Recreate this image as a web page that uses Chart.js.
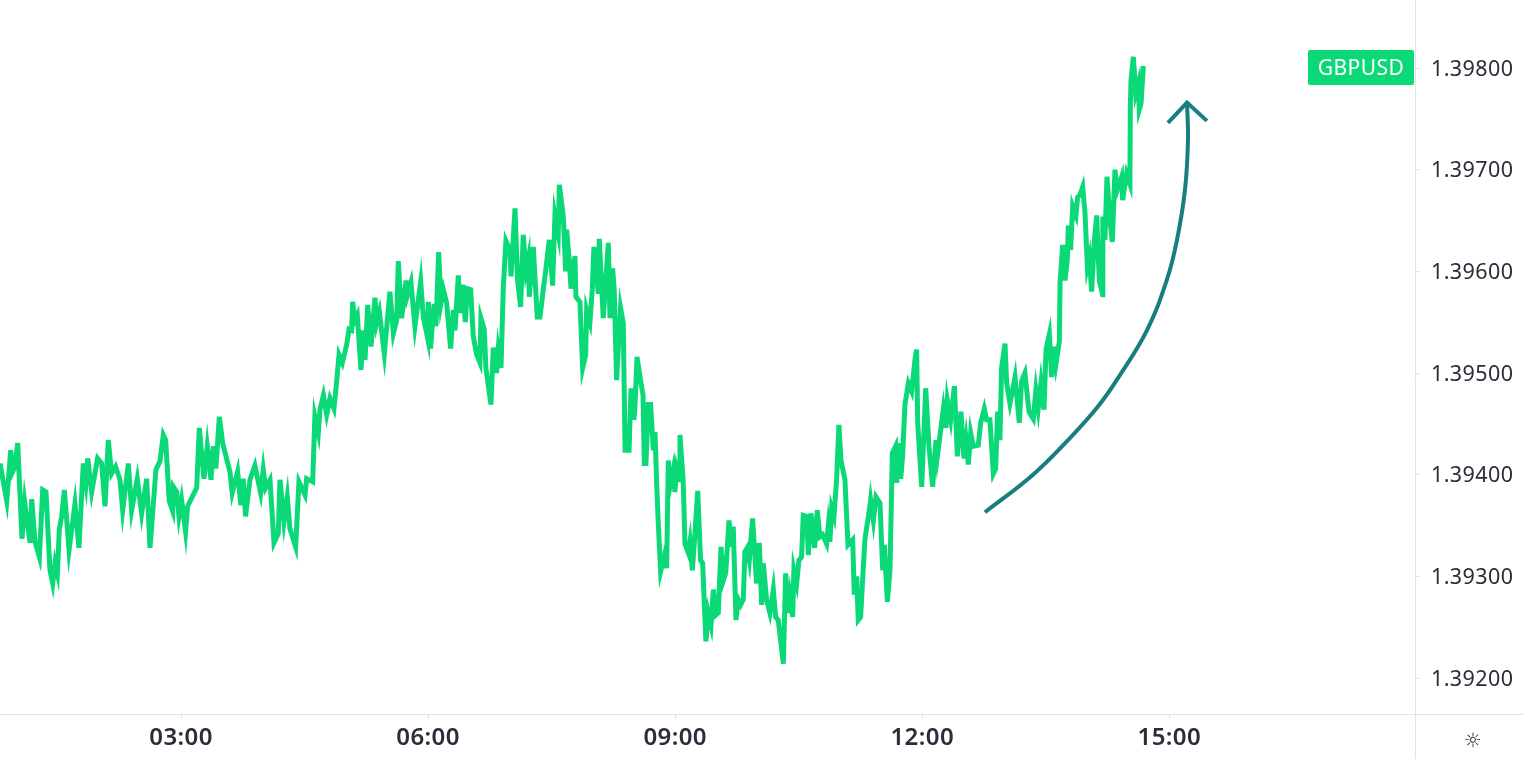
<!DOCTYPE html>
<html>
<head>
<meta charset="utf-8">
<title>GBPUSD</title>
<script src="https://cdn.jsdelivr.net/npm/chart.js@4/dist/chart.umd.min.js"></script>
<style>
  html, body { margin: 0; padding: 0; background: #fff; overflow: hidden; }
  canvas { display: block; }
</style>
</head>
<body>
<canvas id="myChart" width="1524" height="759"></canvas>
<script>
// minutes since midnight
var minutes = [
  48.1,53.0,55.9,57.3,59.0,61.0,64.1,66.1,70.0,71.2,73.6,76.8,79.2,81.6,84.5,86.5,88.2,89.9,91.3,93.0,
  95.0,98.4,102.7,105.6,108.8,110.7,112.0,114.9,119.2,122.2,124.6,127.0,129.4,132.3,135.5,137.5,141.6,144.0,148.1,151.3,
  154.9,157.4,161.7,164.6,167.1,168.8,171.4,173.9,174.4,176.8,178.5,180.4,183.3,184.8,191.4,193.3,196.7,199.1,201.8,203.5,
  205.4,207.9,210.3,215.6,217.3,221.2,223.6,225.3,227.0,230.2,233.8,238.0,239.9,241.6,244.8,247.7,250.8,252.1,255.0,257.4,
  259.3,263.5,265.9,270.3,271.5,275.9,277.5,280.0,281.2,283.7,286.1,288.5,291.4,293.4,295.1,297.5,300.7,302.4,304.3,305.0,
  306.7,308.4,311.1,312.8,314.0,316.0,318.4,321.3,322.5,324.5,328.1,332.2,334.7,337.1,338.3,340.7,343.9,344.8,347.5,350.4,
  354.6,356.5,359.7,360.1,361.8,364.3,365.7,367.7,369.4,371.1,373.5,376.4,378.4,379.6,382.0,383.2,385.2,387.1,388.6,391.0,
  392.9,395.4,397.8,398.5,400.9,402.1,405.8,407.5,409.9,411.1,413.1,414.8,416.7,419.6,420.4,423.3,425.2,427.4,429.3,431.3,
  433.0,433.7,436.6,439.5,441.5,443.9,445.6,448.3,450.7,452.4,454.8,455.6,458.5,460.2,460.9,462.9,464.1,467.0,467.7,470.6,
  472.6,474.8,475.5,477.9,479.6,480.8,484.0,484.7,487.6,491.3,492.5,494.4,495.6,497.3,500.2,502.2,503.5,506.4,507.8,510.0,
  510.7,512.2,514.4,516.6,517.5,518.7,520.4,522.1,524.1,525.3,526.5,527.7,529.4,532.6,533.8,535.0,536.2,538.6,539.8,541.1,
  542.8,543.5,545.9,547.1,549.6,550.8,552.5,554.4,556.4,558.5,560.0,562.4,564.1,566.1,567.8,569.7,571.4,573.4,575.1,576.8,
  579.2,581.1,582.3,584.3,586.0,587.7,589.6,590.8,592.5,594.0,596.4,599.3,601.3,603.0,604.2,606.6,609.0,611.5,613.2,615.1,
  618.8,620.5,622.4,623.6,625.6,626.5,628.5,630.2,632.1,633.3,635.8,637.0,638.9,641.6,643.5,645.5,647.4,650.3,651.5,652.7,
  654.0,655.7,657.6,659.3,660.8,663.7,665.9,669.3,670.5,672.2,673.4,675.1,678.2,681.9,682.4,684.4,686.3,689.2,691.2,692.4,
  694.6,696.5,698.2,700.6,701.4,703.3,704.3,705.7,707.4,709.9,712.3,714.7,715.9,716.7,719.6,722.5,724.9,727.6,730.0,731.0,
  735.4,737.3,738.3,740.7,743.4,745.6,748.2,750.4,751.9,753.6,755.3,757.2,760.8,762.6,765.2,766.9,769.3,771.8,773.5,774.9,
  776.6,777.8,780.3,781.5,783.9,787.6,790.7,792.4,794.8,797.8,800.9,802.8,804.5,806.5,808.7,810.2,812.6,814.3,816.0,817.4,
  819.9,820.4,822.3,824.0,825.7,826.4,828.1,829.6,832.0,833.2,834.9,836.9,838.6,840.3,841.7,843.4,845.4,847.1,849.0,851.4,
  851.6,853.1,854.6,856.8,858.5,860.4,862.1,865.3,866.0,868.9,871.3,871.6,872.1,873.8,875.5,877.4,878.1,879.4,881.1
];
var prices = [
  1.39411,1.39374,1.39424,1.39403,1.39408,1.39431,1.39337,1.39373,1.39333,1.39376,1.39334,1.39319,1.39385,1.39383,1.39306,1.39293,1.39313,1.39303,1.39346,1.39359,
  1.39385,1.39326,1.39371,1.39328,1.39411,1.39392,1.39416,1.39383,1.39416,1.39411,1.39369,1.39434,1.39401,1.39408,1.39395,1.39365,1.39411,1.39365,1.39396,1.39362,
  1.39396,1.39328,1.39405,1.39413,1.39439,1.39434,1.39374,1.39364,1.39388,1.39383,1.39359,1.39375,1.39344,1.39369,1.39387,1.39446,1.39396,1.39428,1.39395,1.39428,
  1.39406,1.39457,1.39431,1.39403,1.39382,1.39403,1.39370,1.39396,1.39359,1.39395,1.39409,1.39382,1.39405,1.39387,1.39395,1.39333,1.39342,1.39395,1.39354,1.39378,
  1.39347,1.39329,1.39393,1.39380,1.39396,1.39393,1.39457,1.39441,1.39464,1.39478,1.39459,1.39475,1.39465,1.39492,1.39518,1.39510,1.39528,1.39543,1.39542,1.39570,
  1.39552,1.39557,1.39503,1.39542,1.39513,1.39567,1.39526,1.39574,1.39549,1.39560,1.39519,1.39580,1.39539,1.39552,1.39610,1.39554,1.39591,1.39576,1.39589,1.39546,
  1.39590,1.39555,1.39534,1.39570,1.39524,1.39568,1.39546,1.39619,1.39569,1.39582,1.39569,1.39524,1.39562,1.39542,1.39596,1.39559,1.39587,1.39550,1.39583,1.39582,
  1.39536,1.39518,1.39510,1.39554,1.39543,1.39505,1.39469,1.39525,1.39500,1.39523,1.39505,1.39585,1.39630,1.39621,1.39595,1.39662,1.39591,1.39565,1.39636,1.39601,
  1.39613,1.39575,1.39624,1.39555,1.39555,1.39582,1.39600,1.39631,1.39586,1.39655,1.39637,1.39685,1.39654,1.39600,1.39641,1.39610,1.39583,1.39615,1.39575,1.39570,
  1.39505,1.39518,1.39562,1.39550,1.39582,1.39624,1.39578,1.39632,1.39554,1.39628,1.39554,1.39603,1.39582,1.39493,1.39564,1.39549,1.39424,1.39424,1.39485,1.39454,
  1.39467,1.39516,1.39496,1.39478,1.39411,1.39411,1.39469,1.39469,1.39424,1.39442,1.39392,1.39352,1.39305,1.39323,1.39308,1.39414,1.39388,1.39405,1.39383,1.39405,
  1.39395,1.39439,1.39392,1.39332,1.39323,1.39334,1.39306,1.39342,1.39384,1.39316,1.39313,1.39236,1.39264,1.39252,1.39287,1.39262,1.39264,1.39329,1.39296,1.39303,
  1.39355,1.39329,1.39349,1.39257,1.39277,1.39272,1.39277,1.39324,1.39328,1.39316,1.39357,1.39293,1.39333,1.39272,1.39313,1.39277,1.39264,1.39287,1.39260,1.39257,
  1.39214,1.39303,1.39264,1.39280,1.39260,1.39306,1.39293,1.39316,1.39319,1.39360,1.39359,1.39321,1.39362,1.39328,1.39365,1.39339,1.39341,1.39332,1.39349,1.39334,
  1.39367,1.39359,1.39395,1.39449,1.39414,1.39395,1.39331,1.39336,1.39282,1.39300,1.39257,1.39260,1.39336,1.39369,1.39375,1.39355,1.39378,1.39372,1.39306,1.39331,
  1.39275,1.39306,1.39421,1.39428,1.39392,1.39431,1.39396,1.39418,1.39469,1.39490,1.39482,1.39513,1.39523,1.39451,1.39388,1.39485,1.39428,1.39388,1.39434,1.39418,
  1.39465,1.39446,1.39473,1.39454,1.39487,1.39418,1.39462,1.39416,1.39434,1.39410,1.39441,1.39428,1.39429,1.39451,1.39465,1.39454,1.39454,1.39401,1.39406,1.39462,
  1.39434,1.39505,1.39529,1.39490,1.39470,1.39496,1.39451,1.39492,1.39500,1.39462,1.39455,1.39483,1.39465,1.39490,1.39464,1.39523,1.39538,1.39496,1.39526,1.39509,
  1.39531,1.39588,1.39626,1.39591,1.39611,1.39645,1.39621,1.39664,1.39655,1.39673,1.39675,1.39683,1.39657,1.39605,1.39614,1.39580,1.39631,1.39655,1.39591,1.39577,
  1.39654,1.39631,1.39693,1.39650,1.39629,1.39700,1.39680,1.39693,1.39670,1.39696,1.39686,1.39762,1.39788,1.39811,1.39775,1.39785,1.39759,1.39765,1.39802
];

// hand drawn arrow on top of the chart
var arrowMinutes = [765.7,800.7,827.6,848.0,862.6,883.7,898.3,905.6,911.4,913.6,912.9];
var arrowPrices = [1.39363,1.39400,1.39436,1.39467,1.39495,1.39542,1.39592,1.39631,1.39680,1.39729,1.39766];
var headMinutes = [899.0,912.9,927.4];
var headPrices = [1.39746,1.39766,1.39748];

var xTickValues = [180,360,540,720,900];
var xTickLabels = ["03:00","06:00","09:00","12:00","15:00"];
var yTickValues = [1.392,1.393,1.394,1.395,1.396,1.397,1.398];
var symbolName = "GBPUSD";
var symbolPrice = 1.398;

function toPoints(xs, ys){
  var pts = [];
  var i;
  for(i in xs){
    pts.push({x: xs[i], y: ys[i]});
  }
  return pts;
}

var lineColor = "#0bd977";
var arrowColor = "#187f80";
var axisColor = "#e0e3e6";
var textColor = "#2a2e39";
var fontName = "'Noto Sans', sans-serif";

// axis lines run past the plot, plus the symbol label and the little sun icon
var extras = {
  id: "extras",
  beforeDraw: function(chart){
    chart.ctx.letterSpacing = "0.4px";
    // price labels sit a touch below their tick
    chart.scales.y.getLabelItems().forEach(function(item){
      item.options.translation[1] += 1.5;
    });
  },
  afterDraw: function(chart){
    var c = chart.ctx;
    var area = chart.chartArea;
    c.save();
    c.strokeStyle = axisColor;
    c.lineWidth = 1;
    c.beginPath();
    c.moveTo(Math.round(area.right) + 0.5, 0);
    c.lineTo(Math.round(area.right) + 0.5, chart.height);
    c.moveTo(0, Math.round(area.bottom) + 0.5);
    c.lineTo(chart.width, Math.round(area.bottom) + 0.5);
    c.stroke();

    var yp = chart.scales.y.getPixelForValue(symbolPrice);
    c.fillStyle = lineColor;
    c.beginPath();
    c.roundRect(area.right - 107, yp - 18, 106, 35, 2);
    c.fill();
    c.fillStyle = "#fff";
    c.font = "21px " + fontName;
    c.textAlign = "center";
    c.textBaseline = "middle";
    c.fillText(symbolName, area.right - 54, yp + 1.5);

    c.fillStyle = textColor;
    c.font = "20px 'DejaVu Sans'";
    c.fillText("\u263C", 1473, 742);
    c.restore();
  }
};

var chartdata = {
  datasets:[{
    label: symbolName,
    data: toPoints(minutes, prices),
    borderColor: lineColor,
    borderWidth: 5,
    pointRadius: 0,
    tension: 0
  },{
    label: "arrow",
    data: toPoints(arrowMinutes, arrowPrices),
    borderColor: arrowColor,
    borderWidth: 4,
    pointRadius: 0,
    tension: 0.4
  },{
    label: "head",
    data: toPoints(headMinutes, headPrices),
    borderColor: arrowColor,
    borderWidth: 4,
    pointRadius: 0,
    tension: 0
  }]
};

var ctx = document.getElementById("myChart");

var lineGraph = new Chart(ctx, {
  type: "line",
  data: chartdata,
  plugins: [extras],
  options: {
    responsive: false,
    animation: false,
    layout: {padding: 0},
    plugins: {
      legend: {display: false},
      tooltip: {enabled: false}
    },
    scales: {
      x: {
        type: "linear",
        bounds: "data",
        min: 48.1,
        max: 1079,
        border: {display: false},
        grid: {drawOnChartArea: false, drawTicks: true, tickLength: 5, tickColor: axisColor},
        afterBuildTicks: function(scale){
          scale.ticks = xTickValues.map(function(v){ return {value: v}; });
        },
        afterFit: function(scale){
          scale.height = 45;
          scale.paddingLeft = 0;
          scale.paddingRight = 0;
        },
        ticks: {
          autoSkip: false,
          maxRotation: 0,
          padding: 5,
          color: textColor,
          font: {family: fontName, size: 24, weight: "600"},
          callback: function(value){
            return xTickLabels[xTickValues.indexOf(value)];
          }
        }
      },
      y: {
        position: "right",
        bounds: "data",
        min: 1.391646,
        max: 1.398669,
        border: {display: false},
        grid: {drawOnChartArea: false, drawTicks: true, tickLength: 5, tickColor: axisColor},
        afterBuildTicks: function(scale){
          scale.ticks = yTickValues.map(function(v){ return {value: v}; });
        },
        afterFit: function(scale){
          scale.width = 109;
          scale.paddingTop = 0;
          scale.paddingBottom = 0;
        },
        ticks: {
          padding: 11,
          color: textColor,
          font: {family: fontName, size: 21.5},
          callback: function(value){
            return value.toFixed(5);
          }
        }
      }
    }
  }
});
</script>
</body>
</html>
